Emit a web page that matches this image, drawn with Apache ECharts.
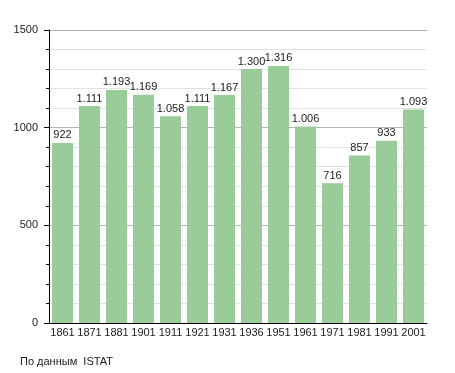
<!DOCTYPE html>
<html><head><meta charset="utf-8">
<script src="https://cdn.jsdelivr.net/npm/echarts@6/dist/echarts.min.js"></script>
<style>html,body{margin:0;padding:0;background:#fff}#c{width:455px;height:373px}</style>
</head><body><div id="c"></div>
<script>
const years = ['1861','1871','1881','1901','1911','1921','1931','1936','1951','1961','1971','1981','1991','2001'];
const population = [922,1111,1193,1169,1058,1111,1167,1300,1316,1006,716,857,933,1093];
const yTicks = [0,500,1000,1500];
const sourceNote = 'По данным  ISTAT';

const fmt = v => v >= 1000 ? Math.floor(v/1000) + '.' + String(v%1000).padStart(3,'0') : String(v);
const font = 'Liberation Sans, Arial, sans-serif';
const chart = echarts.init(document.getElementById('c'), null, {renderer:'canvas'});
chart.setOption({
  animation:false,
  backgroundColor:'#fff',
  grid:{left:49, right:28, top:30, bottom:50},
  graphic:[{type:'text', left:20, top:356, style:{text:sourceNote, font:'11px '+font, fill:'#222'}}],
  xAxis:{type:'category', data:years, boundaryGap:true,
    axisLine:{lineStyle:{color:'#000', width:1}},
    axisTick:{show:false},
    axisLabel:{color:'#222', fontFamily:font, fontSize:11, margin:4, interval:0}},
  yAxis:{type:'value', min:yTicks[0], max:yTicks[yTicks.length-1], interval:500,
    axisLine:{show:true, lineStyle:{color:'#000', width:1}},
    axisTick:{show:true, length:5, lineStyle:{color:'#000'}},
    minorTick:{show:true, splitNumber:5, length:3, lineStyle:{color:'#000'}},
    splitLine:{show:true, lineStyle:{color:'#b4b4b4'}},
    minorSplitLine:{show:true, lineStyle:{color:'#e2e2e2'}},
    axisLabel:{color:'#222', fontFamily:font, fontSize:11, margin:11, formatter:v=>String(v)}},
  series:[{type:'bar', data:population, barWidth:21,
    itemStyle:{color:'#99cc99'},
    label:{show:true, position:'top', distance:2, color:'#222', fontFamily:font, fontSize:11,
      formatter:p=>fmt(p.value)}}]
});
</script></body></html>
